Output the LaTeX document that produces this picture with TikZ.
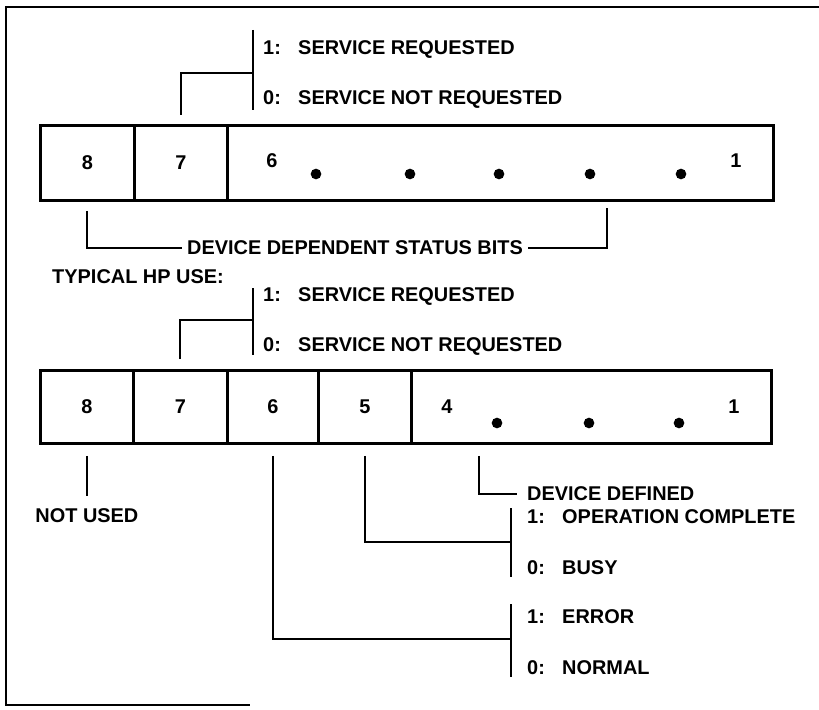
\documentclass[tikz,border=0pt]{standalone}
\usepackage{fontspec}
\setmainfont{Liberation Sans}
\usetikzlibrary{positioning}
\newcommand{\bitval}[2]{\makebox[1.05cm][l]{#1:}#2}

\begin{document}
\begin{tikzpicture}[x=0.03cm,y=-0.03cm,
  every node/.style={font=\fontsize{17}{20}\selectfont\bfseries, inner sep=0pt},
  cell/.style={draw, line width=2.4pt, anchor=north west},
  brk/.style={line width=1.6pt}]
\useasboundingbox (0,0) rectangle (819,710);
\draw[line width=2.2pt] (819,7) -- (6,7) -- (6,705) -- (250,705);

% status byte, general
\node[cell, minimum width=2.82cm, minimum height=2.25cm] (a8) at (39,124) {8};
\node[cell, minimum width=2.79cm, minimum height=2.25cm] (a7) at (133,124) {7};
\node[cell, minimum width=16.38cm, minimum height=2.25cm] (a6) at (226,124) {};
\node (a6n) at (272,161) {6};
\node (a1n) at (736,161) {1};
\foreach \x in {316,410,499,590,681} \fill (\x,174) circle[radius=0.16cm];

\coordinate (s1t) at (253,30);
\coordinate (s1m) at (253,73);
\coordinate (s1b) at (253,110);
\draw[brk] (s1t) -- (s1b);
\draw[brk] ([yshift=0.27cm]a7.north) |- (s1m);
\node[anchor=west] (s1one) at (263,50) {\bitval{1}{SERVICE REQUESTED}};
\node[anchor=west] (s1zero) at (263,100) {\bitval{0}{SERVICE NOT REQUESTED}};

\node[inner xsep=0.15cm] (ddsb) at (355,248) {DEVICE DEPENDENT STATUS BITS};
\coordinate (ddr) at (607,208);
\draw[brk] ([yshift=-0.27cm]a8.south) |- (ddsb.west);
\draw[brk] (ddsb.east) -| (ddr);

% status byte, typical HP use
\node[anchor=west] (typ) at (52,277) {TYPICAL HP USE:};
\node[cell, minimum width=2.79cm, minimum height=2.19cm] (b8) at (39,369) {8};
\node[cell, minimum width=2.82cm, minimum height=2.19cm] (b7) at (132,369) {7};
\node[cell, minimum width=2.73cm, minimum height=2.19cm] (b6) at (226,369) {6};
\node[cell, minimum width=2.79cm, minimum height=2.19cm] (b5) at (317,369) {5};
\node[cell, minimum width=10.8cm, minimum height=2.19cm] (b4) at (410,369) {};
\node (b4n) at (447,407) {4};
\node (b1n) at (734,407) {1};
\foreach \x in {497,589,679} \fill (\x,423) circle[radius=0.16cm];

\coordinate (s2t) at (253,288);
\coordinate (s2m) at (253,320);
\coordinate (s2b) at (253,355);
\draw[brk] (s2t) -- (s2b);
\draw[brk] ([yshift=0.3cm]b7.north) |- (s2m);
\node[anchor=west] (s2one) at (263,297) {\bitval{1}{SERVICE REQUESTED}};
\node[anchor=west] (s2zero) at (263,347) {\bitval{0}{SERVICE NOT REQUESTED}};

\draw[brk] ([yshift=-0.33cm]b8.south) -- ++(0,40) node[below=0.36cm] (nu) {NOT USED};

\node[anchor=west, inner xsep=0.3cm] (ddef) at (517,494) {DEVICE DEFINED};
\draw[brk] ([xshift=2.07cm,yshift=-0.33cm]b4.south west) |- (ddef.west);

\coordinate (opt) at (511,508);
\coordinate (opm) at (511,542);
\coordinate (opb) at (511,577);
\draw[brk] (opt) -- (opb);
\draw[brk] ([yshift=-0.33cm]b5.south) |- (opm);
\node[anchor=west] (op1) at (527,517) {\bitval{1}{OPERATION COMPLETE}};
\node[anchor=west] (op0) at (527,568) {\bitval{0}{BUSY}};

\coordinate (ert) at (511,604);
\coordinate (erm) at (511,639);
\coordinate (erb) at (511,677);
\draw[brk] (ert) -- (erb);
\draw[brk] ([yshift=-0.33cm]b6.south) |- (erm);
\node[anchor=west] (er1) at (527,617) {\bitval{1}{ERROR}};
\node[anchor=west] (er0) at (527,668) {\bitval{0}{NORMAL}};
\end{tikzpicture}
\end{document}
